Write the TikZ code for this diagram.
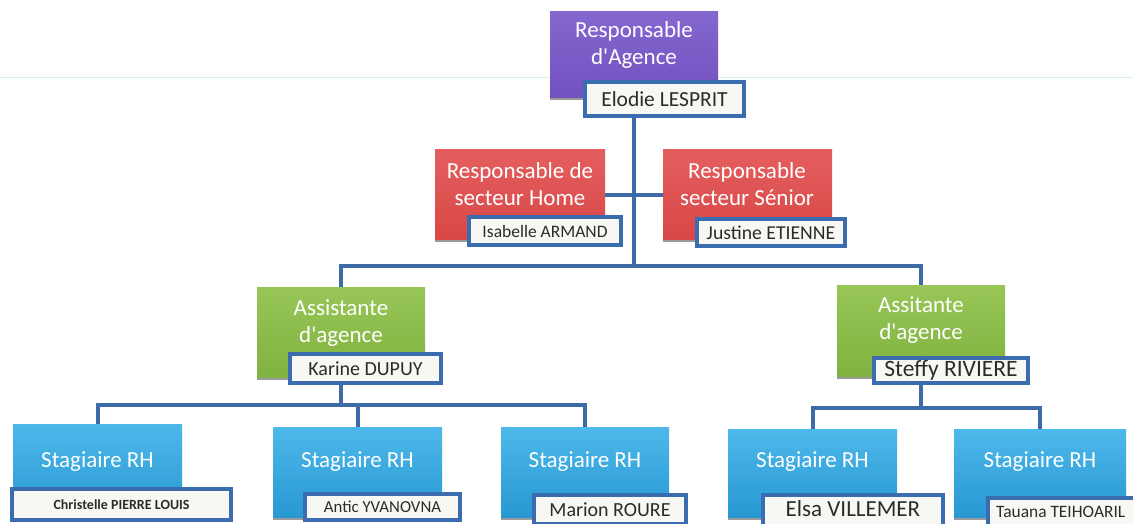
\documentclass[tikz,border=0pt]{standalone}
\usepackage{fontspec}
\setmainfont{Carlito}
\definecolor{conncol}{HTML}{3D6BA8}
\definecolor{namecol}{HTML}{3B6CB0}
\definecolor{namefill}{HTML}{F7F7F4}
\definecolor{nametext}{HTML}{2B2B2B}
\definecolor{purpleT}{HTML}{8467D0}
\definecolor{purpleB}{HTML}{7251BF}
\definecolor{redT}{HTML}{E45E5E}
\definecolor{redB}{HTML}{D94747}
\definecolor{greenT}{HTML}{97C657}
\definecolor{greenB}{HTML}{80B23F}
\definecolor{blueT}{HTML}{4DB8EA}
\definecolor{blueM}{HTML}{34A6DE}
\definecolor{blueB}{HTML}{2898D3}
\definecolor{scanline}{HTML}{D6EFF1}
\definecolor{shadowgray}{HTML}{9A9A9A}
\newcommand{\colbox}[6]{\node[colbox,#6,minimum width={(#4-#2)*1pt},minimum height={(#5-#3)*1pt}] (#1) at ({(#2+#4)/2},{(#3+#5)/2}) {};
  \fill[shadowgray] (#2,#5) rectangle ({#4-2},{#5+2});}
\newcommand{\nmbox}[7]{\node[namebox,minimum width={(#4-#2-4)*1pt},minimum height={(#5-#3-4)*1pt},font=#6] (#1) at ({(#2+#4)/2},{(#3+#5)/2}) {#7};}
\newcommand{\ap}{\textquotesingle}
\begin{document}
\begin{tikzpicture}[x=1pt,y=-1pt,
  colbox/.style={inner sep=0pt,draw=none},
  purplebox/.style={top color=purpleT,bottom color=purpleB},
  redbox/.style={top color=redT,bottom color=redB},
  greenbox/.style={top color=greenT,bottom color=greenB},
  bluebox/.style={top color=blueT,middle color=blueM,bottom color=blueB},
  conn/.style={draw=conncol,line width=4pt,line join=miter},
  namebox/.style={draw=namecol,line width=4pt,fill=namefill,inner sep=0pt,text=nametext},
  nametxt/.style={text=nametext,inner sep=0pt,anchor=base},
  title/.style={text=white,align=center,inner sep=0pt,font=\fontsize{23}{27}\selectfont}]
\clip (0,0) rectangle (1133,524);
\useasboundingbox (0,0) rectangle (1133,524);
\fill[white] (0,0) rectangle (1133,524);
\draw[scanline,line width=1pt] (0,78) coordinate (sl1) -- (1133,78) coordinate (sl2);

% coloured boxes
\colbox{pur}{550}{12}{718}{98}{purplebox}
\colbox{redL}{435}{150}{605}{240}{redbox}
\colbox{redR}{663}{150}{832}{240}{redbox}
\colbox{grL}{257}{287}{425}{378}{greenbox}
\colbox{grR}{837}{285}{1005}{377}{greenbox}
\colbox{b1}{13}{424}{182}{518}{bluebox}
\colbox{b2}{273}{427}{442}{518}{bluebox}
\colbox{b3}{501}{427}{669}{518}{bluebox}
\colbox{b4}{728}{429}{897}{518}{bluebox}
\colbox{b5}{954}{429}{1126}{518}{bluebox}

% titles
\node[title] (tpur) at (634,44.5) {Responsable\\d\ap Agence};
\node[title] (tredL) at (520,184) {Responsable de\\secteur Home};
\node[title] (tredR) at (747,184) {Responsable\\secteur Sénior};
\node[title] (tgrL) at (341,323.5) {Assistante\\d\ap agence};
\node[title] (tgrR) at (921,320) {Assitante\\d\ap agence};
\foreach \b in {b1,b2,b3,b4,b5}{
  \node[title,anchor=base] (t\b) at (\b.center |- 0,467) {Stagiaire RH};
}

% connectors
\path (pur.south) ++(0,168) coordinate (j0);
\path (grL.south) ++(0,27) coordinate (j1);
\path (grR.south) ++(0,31) coordinate (j2);
\draw[conn] (pur.south) -- (j0);
\draw[conn] (redL.east) -- (redL.east -| pur.south);
\draw[conn] (redR.west) -- (redR.west -| pur.south);
\draw[conn] (grL.north) |- (j0) -| (grR.north);
\draw[conn] (grL.south) -- (j1);
\draw[conn] (b1.north) |- (j1) -| (b3.north);
\draw[conn] (b2.north) -- (b2.north |- j1);
\draw[conn] (grR.south) -- (j2);
\draw[conn] (b4.north) |- (j2) -| (b5.north);

% name boxes
\nmbox{nElodie}{583}{80}{746}{118}{\fontsize{21.5}{24}\selectfont}{Elodie LESPRIT}
\nmbox{nIsabelle}{467}{215}{623}{247}{\fontsize{17.5}{20}\selectfont}{Isabelle ARMAND}
\nmbox{nJustine}{695}{217}{847}{248}{\fontsize{19.7}{22}\selectfont}{Justine ETIENNE}
\nmbox{nKarine}{288}{352}{443}{385}{\fontsize{20}{22}\selectfont}{Karine DUPUY}
\nmbox{nSteffy}{872}{356}{1030}{385}{\fontsize{23.5}{25}\selectfont}{Steffy RIVIERE}
\nmbox{nChristelle}{10}{487}{233}{522}{\bfseries\fontsize{14}{16}\selectfont}{Christelle PIERRE LOUIS}
\nmbox{nAntic}{303}{492}{462}{522}{\fontsize{16.8}{19}\selectfont}{Antic YVANOVNA}
\nmbox{nMarion}{532}{493}{688}{526}{\fontsize{20}{22}\selectfont}{Marion ROURE}
\nmbox{nElsa}{761}{493}{945}{536}{}{}
\node[nametxt,font=\fontsize{23}{25}\selectfont] (tElsa) at (853,516) {Elsa VILLEMER};
\nmbox{nTauana}{986}{496}{1150}{532}{}{}
\node[nametxt,anchor=base west,font=\fontsize{17.4}{20}\selectfont] (tTauana) at (996,517) {Tauana TEIHOARIL};
\end{tikzpicture}
\end{document}
